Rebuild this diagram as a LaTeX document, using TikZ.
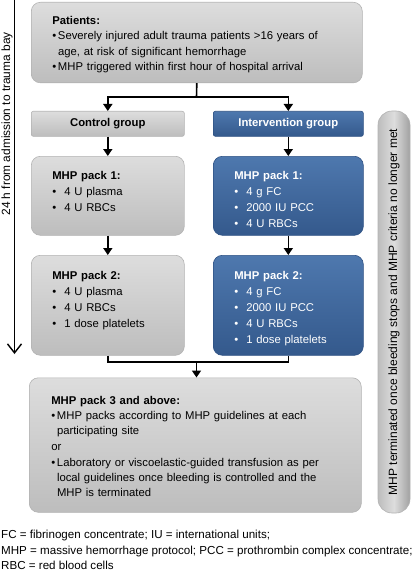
\documentclass[tikz,border=0pt]{standalone}
\usepackage{fontspec}
\setmainfont{Liberation Sans}
\usetikzlibrary{arrows.meta}

\definecolor{packtop}{HTML}{DDDDDD}
\definecolor{packbot}{HTML}{BDBDBD}
\definecolor{packedge}{HTML}{B2B2B2}
\definecolor{bluetop}{HTML}{4E78AE}
\definecolor{bluebot}{HTML}{34598C}
\definecolor{blueedge}{HTML}{2E5183}

\newcommand{\pb}{\makebox[12pt][l]{\textbullet}}
\newcommand{\lb}{\makebox[5.7pt][l]{\textbullet}}

\begin{document}
\begin{tikzpicture}[x=1pt,y=-1pt,
    packbox/.style={rounded corners=9pt, top color=packtop, bottom color=packbot,
      draw=packedge, line width=0.6pt, anchor=north west, align=left,
      inner xsep=21pt, inner ysep=0pt, font=\fontsize{11.3}{16}\selectfont},
    bluebox/.style={packbox, top color=bluetop, bottom color=bluebot,
      draw=blueedge, text=white},
    groupbox/.style={rounded corners=2pt, top color=packtop, bottom color=packbot,
      draw=packedge, line width=0.6pt, anchor=north west, minimum height=25pt,
      inner sep=0pt, font=\fontsize{11.3}{14}\selectfont\bfseries},
    link/.style={line width=1.6pt},
    flow/.style={line width=1.6pt, -{Triangle[length=7pt,width=9pt]}}]

     \useasboundingbox (0,0) rectangle (416,575);

     % time axis on the left
     \coordinate (tstart) at (14.5,0);
     \coordinate (tend) at (14.5,354);
     \draw[line width=1.4pt, -{Straight Barb[length=9pt,width=14pt,line width=1.4pt]}] (tstart) -- (tend);
     \node (tlabel) at (7,124) [rotate=90, font=\fontsize{11.9}{14}\selectfont] {24 h from admission to trauma bay};

     % patients
     \node (patients) at (31,2) [packbox, text width=289pt, text height=22pt, text depth=58.5pt,
       font=\fontsize{11.3}{15.5}\selectfont]
       {\textbf{Patients:}\\
        \lb Severely injured adult trauma patients >16 years of\\
        \hspace*{5.7pt}age, at risk of significant hemorrhage\\
        \lb MHP triggered within first hour of hospital arrival};

     % groups
     \node (ctrl) at (31,111) [groupbox, minimum width=153pt] {Control group};
     \node (intv) at (213,111) [groupbox, minimum width=150pt, top color=bluetop,
       bottom color=bluebot, draw=blueedge, text=white] {Intervention group};

     % MHP pack 1
     \node (ctrla) at (31,156) [packbox, text width=111pt, text height=23.5pt, text depth=55.5pt]
       {\textbf{MHP pack 1:}\\
        \pb 4 U plasma\\
        \pb 4 U RBCs};
     \node (intva) at (213,156) [bluebox, text width=108pt, text height=23.5pt, text depth=55.5pt]
       {\textbf{MHP pack 1:}\\
        \pb 4 g FC\\
        \pb 2000 IU PCC\\
        \pb 4 U RBCs};

     % MHP pack 2
     \node (ctrlb) at (31,255) [packbox, text width=111pt, text height=24pt, text depth=76pt]
       {\textbf{MHP pack 2:}\\
        \pb 4 U plasma\\
        \pb 4 U RBCs\\
        \pb 1 dose platelets};
     \node (intvb) at (213,255) [bluebox, text width=108pt, text height=24pt, text depth=76pt]
       {\textbf{MHP pack 2:}\\
        \pb 4 g FC\\
        \pb 2000 IU PCC\\
        \pb 4 U RBCs\\
        \pb 1 dose platelets};

     % MHP pack 3
     \node (pack) at (29,377.5) [packbox, inner xsep=22pt, text width=288pt, text height=26.5pt,
       text depth=108pt, font=\fontsize{11.3}{15.2}\selectfont]
       {\textbf{MHP pack 3 and above:}\\
        \lb MHP packs according to MHP guidelines at each\\
        \hspace*{5.7pt}participating site\\[0.6pt]
        or\\[0.6pt]
        \lb Laboratory or viscoelastic-guided transfusion as per\\
        \hspace*{5.7pt}local guidelines once bleeding is controlled and the\\
        \hspace*{5.7pt}MHP is terminated};

     % termination bar
     \node (stop) at (394,312) [rotate=90, minimum width=402pt, minimum height=32pt, inner sep=0pt,
       rounded corners=14pt, left color=packbot, right color=packbot!85!black, middle color=packtop,
       draw=packedge, line width=0.6pt, font=\fontsize{12}{14}\selectfont]
       {MHP terminated once bleeding stops and MHP criteria no longer met};

     % connectors
     \coordinate (split) at (196.5,97);
     \draw[link] (patients.south) -- (split);
     \draw[flow] (split) -| (ctrl.north);
     \draw[flow] (split) -| (intv.north);
     \draw[flow] (ctrl.south) -- (ctrla.north);
     \draw[flow] (intv.south) -- (intva.north);
     \draw[flow] (ctrla.south) -- (ctrlb.north);
     \draw[flow] (intva.south) -- (intvb.north);
     \coordinate (join) at (196.5,362);
     \draw[link] (ctrlb.south) |- (join) -| (intvb.south);
     \draw[flow] (join) -- (join |- pack.north);

     % abbreviations
     \node (notes) at (1,569.5) [anchor=base west, align=left, inner sep=0pt,
       font=\fontsize{11.6}{15.5}\selectfont]
       {FC = fibrinogen concentrate; IU = international units;\\
        MHP = massive hemorrhage protocol; PCC = prothrombin complex concentrate;\\
        RBC = red blood cells};

\end{tikzpicture}
\end{document}
